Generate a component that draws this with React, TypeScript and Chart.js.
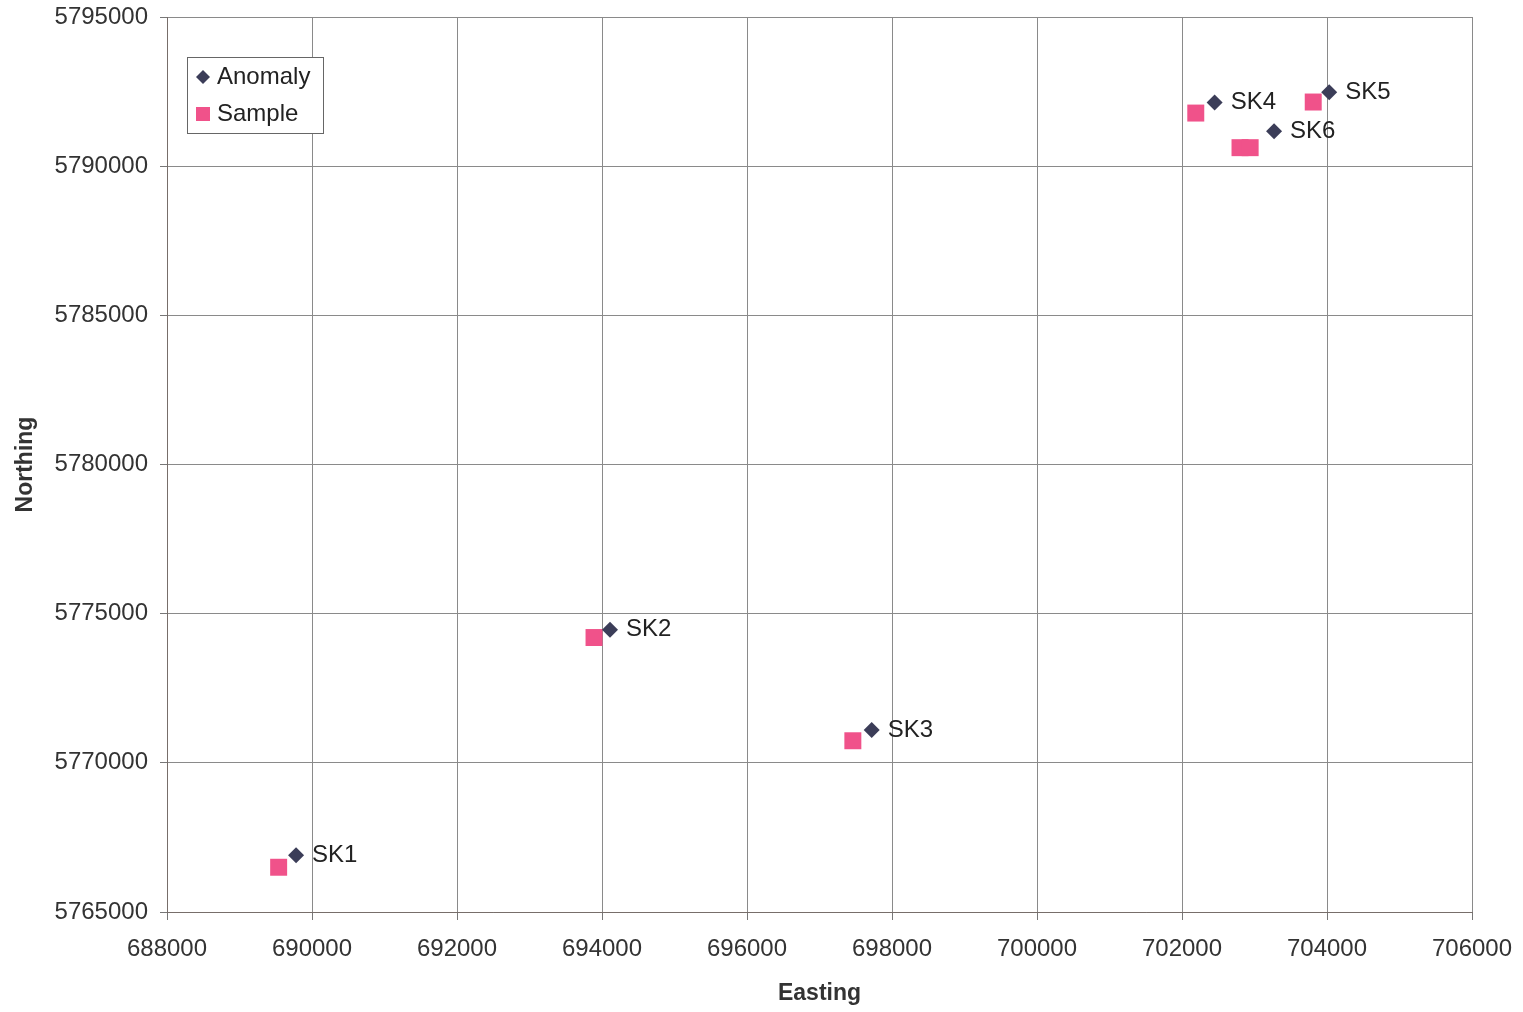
import React, { useEffect, useRef } from "react";
import { Chart, registerables } from "chart.js";

Chart.register(...registerables);

const pointLabels = ["SK1", "SK2", "SK3", "SK4", "SK5", "SK6"];
const anomalyX = [689780, 694110, 697720, 702450, 704030, 703270];
const anomalyY = [5766900, 5774460, 5771100, 5792130, 5792480, 5791170];
const sampleX = [689540, 693890, 697460, 702190, 703810, 702800, 702940];
const sampleY = [5766500, 5774200, 5770740, 5791780, 5792150, 5790620, 5790620];
const xTicks = [688000, 690000, 692000, 694000, 696000, 698000, 700000, 702000, 704000, 706000];
const yTicks = [5765000, 5770000, 5775000, 5780000, 5785000, 5790000, 5795000];

const FONT = "'Liberation Sans', Arial, sans-serif";
const ANOMALY_COLOR = "#3b3d58";
const SAMPLE_COLOR = "#f0528a";

const labelPlugin = {
  id: "pointLabels",
  afterDatasetsDraw(chart: any) {
    const ctx = chart.ctx;
    const meta = chart.getDatasetMeta(0);
    ctx.save();
    ctx.font = `24px ${FONT}`;
    ctx.fillStyle = "#222";
    ctx.textAlign = "left";
    ctx.textBaseline = "middle";
    meta.data.forEach((el: any, i: number) => {
      ctx.fillText(pointLabels[i], el.x + 16, el.y);
    });
    ctx.restore();
  },
};

const legendPlugin = {
  id: "boxLegend",
  afterDraw(chart: any) {
    const ctx = chart.ctx;
    const area = chart.chartArea;
    const x = area.left + 20;
    const y = area.top + 40;
    const w = 136;
    const h = 76;
    ctx.save();
    ctx.fillStyle = "#fff";
    ctx.fillRect(x, y, w, h);
    ctx.strokeStyle = "#666";
    ctx.lineWidth = 1;
    ctx.strokeRect(x + 0.5, y + 0.5, w, h);
    ctx.font = `24px ${FONT}`;
    ctx.textAlign = "left";
    ctx.textBaseline = "middle";
    const mx = x + 16;
    const r1y = y + 20;
    ctx.fillStyle = ANOMALY_COLOR;
    ctx.beginPath();
    ctx.moveTo(mx, r1y - 7);
    ctx.lineTo(mx + 7, r1y);
    ctx.lineTo(mx, r1y + 7);
    ctx.lineTo(mx - 7, r1y);
    ctx.closePath();
    ctx.fill();
    ctx.fillStyle = "#222";
    ctx.fillText(chart.data.datasets[0].label, x + 30, r1y);
    const r2y = y + 57;
    ctx.fillStyle = SAMPLE_COLOR;
    ctx.fillRect(mx - 7, r2y - 7, 14, 14);
    ctx.fillStyle = "#222";
    ctx.fillText(chart.data.datasets[1].label, x + 30, r2y);
    ctx.restore();
  },
};

export default function App() {
  const ref = useRef<HTMLCanvasElement | null>(null);

  useEffect(() => {
    if (!ref.current) return;
    const chart = new Chart(ref.current, {
      type: "scatter",
      data: {
        datasets: [
          {
            label: "Anomaly",
            data: anomalyX.map((x, i) => ({ x, y: anomalyY[i] })),
            pointStyle: "rectRot",
            pointRadius: 8,
            backgroundColor: ANOMALY_COLOR,
            borderColor: ANOMALY_COLOR,
            borderWidth: 0,
            order: 0,
          },
          {
            label: "Sample",
            data: sampleX.map((x, i) => ({ x, y: sampleY[i] })),
            pointStyle: "rect",
            pointRadius: 12,
            backgroundColor: SAMPLE_COLOR,
            borderColor: SAMPLE_COLOR,
            borderWidth: 0,
            order: 1,
          },
        ],
      },
      options: {
        animation: false,
        responsive: true,
        maintainAspectRatio: false,
        layout: { padding: { left: 0, top: 17, right: 51, bottom: 0 } },
        plugins: {
          legend: { display: false },
          tooltip: { enabled: false },
        },
        scales: {
          x: {
            type: "linear",
            min: xTicks[0],
            max: xTicks[xTicks.length - 1],
            afterBuildTicks: (scale: any) => {
              scale.ticks = xTicks.map((v) => ({ value: v }));
            },
            afterFit: (scale: any) => {
              scale.height = 100;
              scale.paddingLeft = 0;
              scale.paddingRight = 0;
            },
            ticks: {
              callback: (v: any) => String(v),
              font: { family: FONT, size: 24 },
              color: "#333",
              padding: 15,
              maxRotation: 0,
            },
            grid: { color: "#8a8a8a", lineWidth: 1, tickLength: 8, tickColor: "#777" },
            border: { color: "#776e6a", width: 1 },
            title: {
              display: true,
              text: "Easting",
              font: { family: FONT, size: 23, weight: "bold" },
              color: "#333",
              padding: { top: 0, bottom: 5 },
            },
          },
          y: {
            type: "linear",
            min: yTicks[0],
            max: yTicks[yTicks.length - 1],
            afterBuildTicks: (scale: any) => {
              scale.ticks = yTicks.map((v) => ({ value: v }));
            },
            afterFit: (scale: any) => {
              scale.width = 167;
              scale.paddingTop = 0;
              scale.paddingBottom = 0;
            },
            ticks: {
              callback: (v: any) => String(v),
              font: { family: FONT, size: 24 },
              color: "#333",
              padding: 12,
            },
            grid: { color: "#8a8a8a", lineWidth: 1, tickLength: 7, tickColor: "#777" },
            border: { color: "#776e6a", width: 1 },
            title: {
              display: true,
              text: "Northing",
              font: { family: FONT, size: 23, weight: "bold" },
              color: "#333",
              padding: { top: 12, bottom: 0 },
            },
          },
        },
      },
      plugins: [labelPlugin, legendPlugin],
    });
    return () => chart.destroy();
  }, []);

  return (
    <div style={{ position: "fixed", left: 0, top: 0, width: 1523, height: 1012, background: "#fff" }}>
      <canvas ref={ref} />
    </div>
  );
}
